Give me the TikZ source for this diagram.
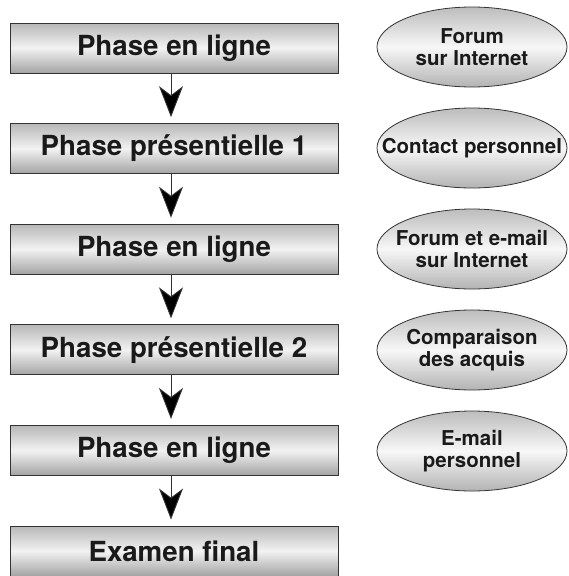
\documentclass[tikz,border=0pt]{standalone}
\usepackage{fontspec}
\setmainfont{TeX Gyre Heros}
\usetikzlibrary{arrows.meta,shapes.geometric}
\definecolor{txt}{HTML}{1A1A1A}
\definecolor{edge}{HTML}{333333}
\tikzset{
  phasebox/.style={draw=edge, line width=0.9pt, rectangle, minimum width=328pt, minimum height=50pt,
    inner sep=0pt, top color=black!28, bottom color=black!36, middle color=black!5,
    text=txt, font=\bfseries\fontsize{27.7}{30}\selectfont},
  oval/.style={draw=edge, line width=0.8pt, ellipse, minimum width=190pt, minimum height=80pt,
    inner sep=0pt, top color=black!26, bottom color=black!30, middle color=black!3},
  ovaltext/.style={text=txt, align=center, inner sep=0pt, font=\bfseries\fontsize{20.5}{22}\selectfont},
  flow/.style={draw=edge, line width=0.9pt, shorten >=6pt,
    -{Stealth[length=31pt, width=24pt, inset=9pt, fill=black]}},
}
\begin{document}
\begin{tikzpicture}[x=1pt, y=-1pt]
\useasboundingbox (0,0) rectangle (569,576);
\node[phasebox] (p1) at (174,48) {Phase en ligne};
\node[phasebox] (p2) at (174,148.6) {Phase présentielle 1};
\node[phasebox] (p3) at (174,249.2) {Phase en ligne};
\node[phasebox] (p4) at (174,349.8) {Phase présentielle 2};
\node[phasebox] (p5) at (174,450.4) {Phase en ligne};
\node[phasebox] (p6) at (174,551) {Examen final};
\foreach \a/\b in {p1/p2,p2/p3,p3/p4,p4/p5,p5/p6}
  \draw[flow] ([xshift=-3pt]\a.south) -- ([xshift=-3pt]\b.north);
\node[oval] (e1) at (472,47) {};
\node[oval] (e2) at (472,148) {};
\node[oval] (e3) at (472,249) {};
\node[oval] (e4) at (472,350) {};
\node[oval] (e5) at (472,451) {};
\node[ovaltext] (t1) at (e1) {Forum\\sur Internet};
\node[ovaltext] (t2) at (e2) {Contact personnel};
\node[ovaltext] (t3) at (e3) {Forum et e-mail\\sur Internet};
\node[ovaltext] (t4) at (e4) {Comparaison\\des acquis};
\node[ovaltext] (t5) at (e5) {E-mail\\personnel};
\end{tikzpicture}
\end{document}
